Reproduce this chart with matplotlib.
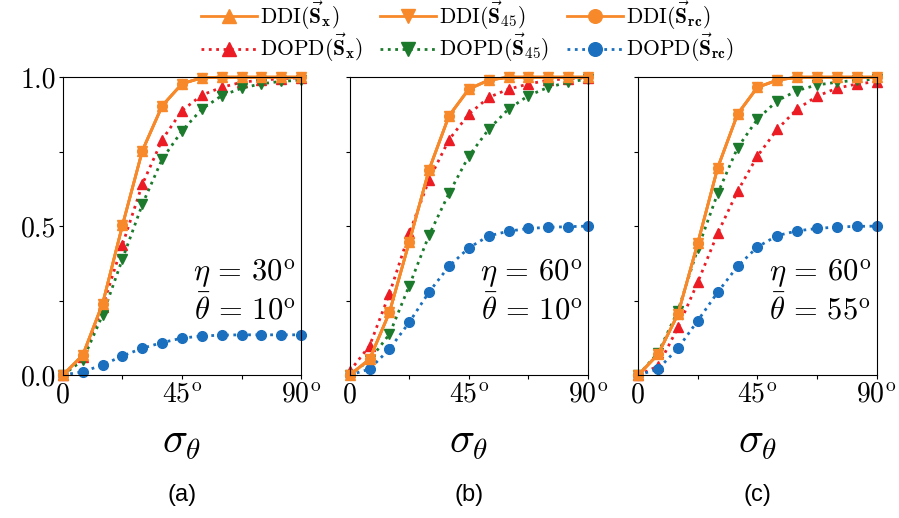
import numpy as np
import matplotlib
matplotlib.use("Agg")
import matplotlib.pyplot as plt

plt.rcParams['font.family'] = 'serif'
plt.rcParams['font.serif'] = ['cmr10']
plt.rcParams['mathtext.fontset'] = 'cm'
plt.rcParams['axes.unicode_minus'] = False

sigma = [0, 7.5, 15, 22.5, 30, 37.5, 45, 52.5, 60, 67.5, 75, 82.5, 90]

# panel (a): eta = 30, theta_bar = 10
ddi_a = [0.0, 0.067, 0.24, 0.503, 0.753, 0.904, 0.978, 0.998, 1.0, 1.0, 1.0, 1.0, 1.0]
dopd_x_a = [0.0, 0.06, 0.23, 0.438, 0.64, 0.79, 0.888, 0.94, 0.966, 0.983, 0.99, 0.995, 0.998]
dopd_45_a = [0.0, 0.05, 0.202, 0.39, 0.573, 0.725, 0.82, 0.893, 0.938, 0.963, 0.978, 0.986, 0.99]
dopd_rc_a = [0.0, 0.011, 0.034, 0.064, 0.09, 0.109, 0.124, 0.131, 0.134, 0.135, 0.135, 0.135, 0.135]

# panel (b): eta = 60, theta_bar = 10
ddi_b = [0.0, 0.053, 0.21, 0.447, 0.69, 0.87, 0.96, 0.99, 1.0, 1.0, 1.0, 1.0, 1.0]
dopd_x_b = [0.013, 0.098, 0.273, 0.476, 0.656, 0.79, 0.876, 0.932, 0.96, 0.977, 0.99, 0.995, 0.998]
dopd_45_b = [0.0, 0.05, 0.137, 0.30, 0.47, 0.61, 0.735, 0.825, 0.893, 0.938, 0.966, 0.983, 0.994]
dopd_rc_b = [0.0, 0.02, 0.087, 0.177, 0.279, 0.365, 0.427, 0.467, 0.483, 0.492, 0.496, 0.498, 0.5]

# panel (c): eta = 60, theta_bar = 55
ddi_c = [0.0, 0.07, 0.205, 0.444, 0.696, 0.876, 0.966, 0.99, 1.0, 1.0, 1.0, 1.0, 1.0]
dopd_x_c = [0.0, 0.03, 0.16, 0.312, 0.476, 0.617, 0.735, 0.825, 0.893, 0.936, 0.963, 0.977, 0.985]
dopd_45_c = [0.0, 0.075, 0.216, 0.425, 0.61, 0.763, 0.859, 0.921, 0.955, 0.974, 0.983, 0.99, 0.993]
dopd_rc_c = [0.0, 0.02, 0.09, 0.183, 0.278, 0.365, 0.43, 0.468, 0.484, 0.492, 0.497, 0.499, 0.5]

panels = [
    (ddi_a, dopd_x_a, dopd_45_a, dopd_rc_a, "30", "10", "(a)"),
    (ddi_b, dopd_x_b, dopd_45_b, dopd_rc_b, "60", "10", "(b)"),
    (ddi_c, dopd_x_c, dopd_45_c, dopd_rc_c, "60", "55", "(c)"),
]

ORANGE = '#f7892a'
RED = '#ec1c24'
GREEN = '#1b7a2b'
BLUE = '#1a6fbe'

fig = plt.figure(figsize=(8.99, 5.18), dpi=100)
lefts = [0.070, 0.389, 0.710]
handles = []

for i, (ddi, dx, d45, drc, eta, th, tag) in enumerate(panels):
    ax = fig.add_axes([lefts[i], 0.276, 0.265, 0.575])
    kw = dict(lw=2, ls=':', ms=7, clip_on=False)
    h4, = ax.plot(sigma, dx, color=RED, marker='^', **kw)
    h5, = ax.plot(sigma, d45, color=GREEN, marker='v', **kw)
    h6, = ax.plot(sigma, drc, color=BLUE, marker='o', **kw)
    kw = dict(lw=2, ls='-', ms=7, clip_on=False)
    h1, = ax.plot(sigma, ddi, color=ORANGE, marker='^', **kw)
    h2, = ax.plot(sigma, ddi, color=ORANGE, marker='v', **kw)
    h3, = ax.plot(sigma, ddi, color=ORANGE, marker='o', **kw)
    handles = [h1, h4, h2, h5, h3, h6]

    ax.set_xlim(0, 90)
    ax.set_ylim(0, 1)
    ax.set_xticks([0, 45, 90])
    ax.set_xticks([22.5, 67.5], minor=True)
    ax.set_xticklabels(['0', r'$45^{\rm o}$', r'$90^{\rm o}$'], fontsize=20)
    ax.set_yticks([0, 0.5, 1.0])
    ax.set_yticks([0.25, 0.75], minor=True)
    if i == 0:
        ax.set_yticklabels(['0.0', '0.5', '1.0'], fontsize=20)
    else:
        ax.set_yticklabels([])
    ax.tick_params(which='both', direction='out', length=3, width=0.8, pad=2)
    for s in ax.spines.values():
        s.set_linewidth(0.8)

    ax.text(88, 0.34, r'$\eta\,=\,%s^{\rm o}$' % eta, ha='right', va='center', fontsize=22)
    ax.text(88, 0.22, r'$\bar{\theta}\,=\,%s^{\rm o}$' % th, ha='right', va='center', fontsize=22)

    ax.set_xlabel(r'$\sigma_\theta$', fontsize=30, labelpad=12)
    ax.text(0.5, -0.365, tag, transform=ax.transAxes, ha='center', va='top',
            fontsize=17, family='Liberation Sans')

labels = [r'DDI($\vec{\mathbf{S}}_{\mathbf{x}}$)', r'DOPD($\vec{\mathbf{S}}_{\mathbf{x}}$)',
          r'DDI($\vec{\mathbf{S}}_{\mathbf{45}}$)', r'DOPD($\vec{\mathbf{S}}_{\mathbf{45}}$)',
          r'DDI($\vec{\mathbf{S}}_{\mathbf{rc}}$)', r'DOPD($\vec{\mathbf{S}}_{\mathbf{rc}}$)']
fig.legend(handles, labels, loc='upper center', bbox_to_anchor=(0.52, 1.03), ncol=3,
           frameon=False, fontsize=15.5, handlelength=2.6, handletextpad=0.15,
           columnspacing=0.8, labelspacing=0.02, markerscale=1.4, borderpad=0.2)

fig.savefig('out.png', dpi=100)
